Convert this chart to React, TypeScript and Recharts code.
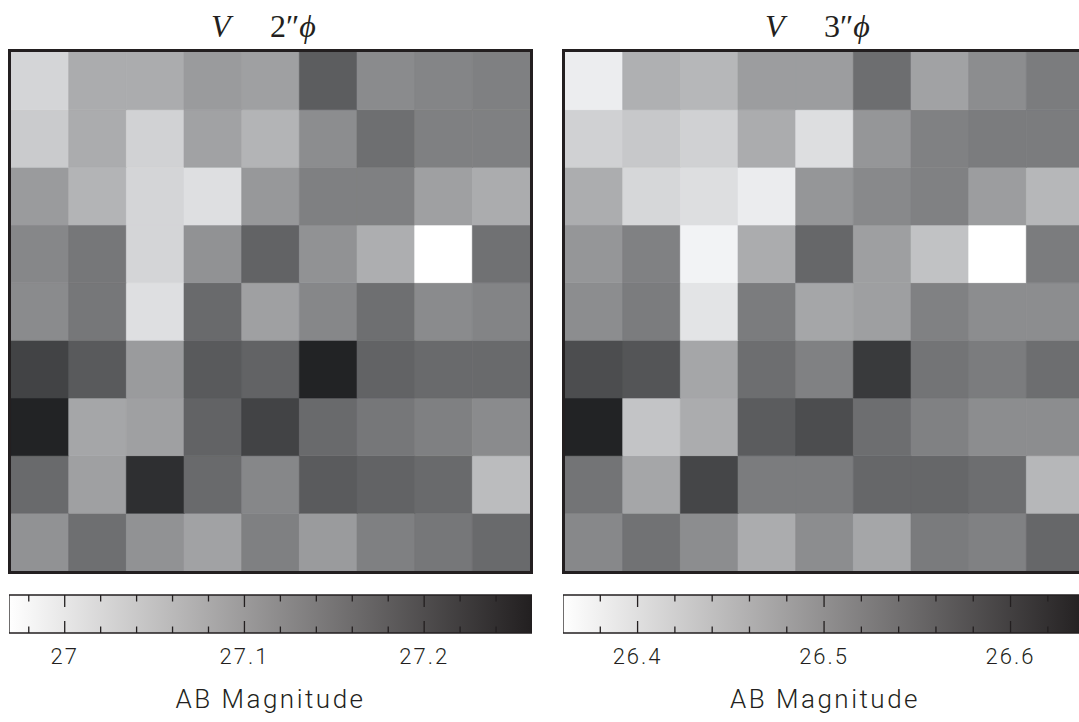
import React from 'react';
import { BarChart, Bar, Cell, XAxis, YAxis, Label } from 'recharts';

// pixel columns of the 9x9 stamp
const columns = ['1', '2', '3', '4', '5', '6', '7', '8', '9'];

// AB magnitude per pixel, rows top -> bottom, columns left -> right
const v2Rows: number[][] = [
  [27.026, 27.079, 27.079, 27.102, 27.096, 27.183, 27.123, 27.131, 27.137],
  [27.039, 27.08, 27.029, 27.093, 27.069, 27.12, 27.16, 27.137, 27.137],
  [27.102, 27.069, 27.025, 27.013, 27.106, 27.137, 27.137, 27.096, 27.08],
  [27.128, 27.149, 27.025, 27.114, 27.176, 27.114, 27.077, 26.969, 27.157],
  [27.123, 27.149, 27.013, 27.166, 27.096, 27.128, 27.16, 27.123, 27.132],
  [27.218, 27.187, 27.102, 27.187, 27.176, 27.26, 27.176, 27.166, 27.166],
  [27.26, 27.088, 27.096, 27.176, 27.218, 27.166, 27.149, 27.137, 27.123],
  [27.166, 27.096, 27.244, 27.166, 27.128, 27.186, 27.176, 27.166, 27.059],
  [27.114, 27.16, 27.114, 27.093, 27.137, 27.102, 27.137, 27.149, 27.166],
];

const v3Rows: number[][] = [
  [26.384, 26.462, 26.453, 26.486, 26.486, 26.546, 26.48, 26.506, 26.528],
  [26.42, 26.431, 26.42, 26.467, 26.403, 26.495, 26.521, 26.528, 26.528],
  [26.465, 26.412, 26.403, 26.385, 26.495, 26.511, 26.521, 26.486, 26.453],
  [26.495, 26.521, 26.376, 26.467, 26.555, 26.483, 26.439, 26.36, 26.528],
  [26.506, 26.528, 26.395, 26.528, 26.475, 26.483, 26.521, 26.506, 26.506],
  [26.588, 26.578, 26.475, 26.546, 26.521, 26.612, 26.538, 26.528, 26.546],
  [26.641, 26.436, 26.467, 26.568, 26.588, 26.546, 26.521, 26.506, 26.506],
  [26.538, 26.475, 26.597, 26.528, 26.528, 26.555, 26.555, 26.546, 26.453],
  [26.512, 26.541, 26.506, 26.467, 26.506, 26.475, 26.529, 26.521, 26.555],
];

// colour scale limits (white -> black)
const v2Range: [number, number] = [26.969, 27.26];
const v3Range: [number, number] = [26.36, 26.641];

const v2MajorTicks = [27, 27.1, 27.2];
const v2MajorLabels = ['27', '27.1', '27.2'];
const v2MinorTicks = [26.98, 27.02, 27.04, 27.06, 27.08, 27.12, 27.14, 27.16, 27.18, 27.22, 27.24];

const v3MajorTicks = [26.4, 26.5, 26.6];
const v3MajorLabels = ['26.4', '26.5', '26.6'];
const v3MinorTicks = [26.38, 26.42, 26.44, 26.46, 26.48, 26.52, 26.54, 26.56, 26.58, 26.62, 26.64];

const INK = '#231f20';
const SANS = "Roboto, 'DejaVu Sans', sans-serif";
const SERIF = "'Liberation Serif', 'DejaVu Serif', serif";

const MAP_SIZE = 519;
const BAR_H = 38;

const grayFor = (m: number, range: [number, number]) => {
  const t = Math.min(1, Math.max(0, (m - range[0]) / (range[1] - range[0])));
  const v = Math.round(255 - t * 221);
  return `rgb(${v},${Math.min(255, v + 1)},${Math.min(255, v + 3)})`;
};

const Heatmap = ({ rows, range }: { rows: number[][]; range: [number, number] }) => {
  const data = columns.map((c) => {
    const d: Record<string, string | number> = { col: c };
    rows.forEach((_, ri) => {
      d[`r${ri}`] = 1;
    });
    return d;
  });
  // stack from the bottom row upwards
  const order = rows.map((_, ri) => rows.length - 1 - ri);
  return (
    <BarChart
      width={MAP_SIZE}
      height={MAP_SIZE}
      data={data}
      margin={{ top: 0, right: 0, bottom: 0, left: 0 }}
      barCategoryGap={0}
      barGap={0}
    >
      <XAxis dataKey="col" hide />
      <YAxis type="number" domain={[0, rows.length]} hide />
      {order.map((ri) => (
        <Bar key={ri} dataKey={`r${ri}`} stackId="px" isAnimationActive={false}>
          {columns.map((c, ci) => {
            const fill = grayFor(rows[ri][ci], range);
            return <Cell key={c} fill={fill} stroke={fill} strokeWidth={0.6} />;
          })}
        </Bar>
      ))}
    </BarChart>
  );
};

const makeTick = (majors: number[], labels: string[]) => (props: any) => {
  const { x, y, payload } = props;
  const idx = majors.findIndex((m) => Math.abs(m - payload.value) < 1e-6);
  const len = idx >= 0 ? 12 : 6.5;
  return (
    <g>
      <line x1={x} x2={x} y1={y - BAR_H} y2={y - BAR_H + len} stroke={INK} strokeWidth={1.3} />
      <line x1={x} x2={x} y1={y - len} y2={y} stroke={INK} strokeWidth={1.3} />
      {idx >= 0 && (
        <text
          x={x}
          y={y + 31}
          textAnchor="middle"
          fill={INK}
          fontFamily={SANS}
          fontWeight={300}
          fontSize={22}
          letterSpacing={2}
        >
          {labels[idx]}
        </text>
      )}
    </g>
  );
};

const ColorBar = ({
  id,
  width,
  range,
  majors,
  minors,
  labels,
}: {
  id: string;
  width: number;
  range: [number, number];
  majors: number[];
  minors: number[];
  labels: string[];
}) => {
  const ticks = [...minors, ...majors].sort((a, b) => a - b);
  const data = [{ name: 'scale', mag: range[1] }];
  return (
    <BarChart
      width={width}
      height={BAR_H + 88}
      data={data}
      layout="vertical"
      margin={{ top: 1, right: 0, bottom: 0, left: 0 }}
      barCategoryGap={0}
    >
      <defs>
        <linearGradient id={id} x1="0" y1="0" x2="1" y2="0">
          <stop offset="0" stopColor="#ffffff" />
          <stop offset="1" stopColor="#221f20" />
        </linearGradient>
      </defs>
      <XAxis
        type="number"
        domain={range}
        allowDataOverflow
        ticks={ticks}
        interval={0}
        axisLine={false}
        tickLine={false}
        tickSize={0}
        tickMargin={0}
        height={87}
        tick={makeTick(majors, labels)}
      >
        <Label
          value="AB Magnitude"
          position="insideBottom"
          offset={12}
          fill={INK}
          fontFamily={SANS}
          fontWeight={300}
          fontSize={26}
          letterSpacing={2.5}
        />
      </XAxis>
      <YAxis type="category" dataKey="name" hide />
      <Bar
        dataKey="mag"
        fill={`url(#${id})`}
        stroke={INK}
        strokeWidth={1.3}
        isAnimationActive={false}
      />
    </BarChart>
  );
};

const Title = ({ left, digit }: { left: number; digit: string }) => (
  <svg
    width={200}
    height={48}
    style={{ position: 'absolute', left, top: 0, overflow: 'visible' }}
  >
    <text x={0} y={37} fontFamily={SERIF} fontSize={32} fill={INK} fontStyle="italic">
      V
    </text>
    <text x={59} y={37} fontFamily={SERIF} fontSize={32} fill={INK}>
      {digit}
      {'\u2033'}
      <tspan fontStyle="italic">{'\u03D5'}</tspan>
    </text>
  </svg>
);

const frameStyle = (left: number): React.CSSProperties => ({
  position: 'absolute',
  left,
  top: 49,
  width: MAP_SIZE,
  height: MAP_SIZE,
  border: `3px solid ${INK}`,
});

export default function App() {
  return (
    <div
      style={{
        position: 'fixed',
        left: 0,
        top: 0,
        width: 1079,
        height: 722,
        overflow: 'hidden',
        background: '#ffffff',
      }}
    >
      <Title left={211} digit="2" />
      <Title left={765} digit="3" />

      <div style={frameStyle(8)}>
        <Heatmap rows={v2Rows} range={v2Range} />
      </div>
      <div style={frameStyle(562)}>
        <Heatmap rows={v3Rows} range={v3Range} />
      </div>

      <div style={{ position: 'absolute', left: 9, top: 594 }}>
        <ColorBar
          id="v2grad"
          width={523}
          range={v2Range}
          majors={v2MajorTicks}
          minors={v2MinorTicks}
          labels={v2MajorLabels}
        />
      </div>
      <div style={{ position: 'absolute', left: 563, top: 594 }}>
        <ColorBar
          id="v3grad"
          width={524}
          range={v3Range}
          majors={v3MajorTicks}
          minors={v3MinorTicks}
          labels={v3MajorLabels}
        />
      </div>
    </div>
  );
}
